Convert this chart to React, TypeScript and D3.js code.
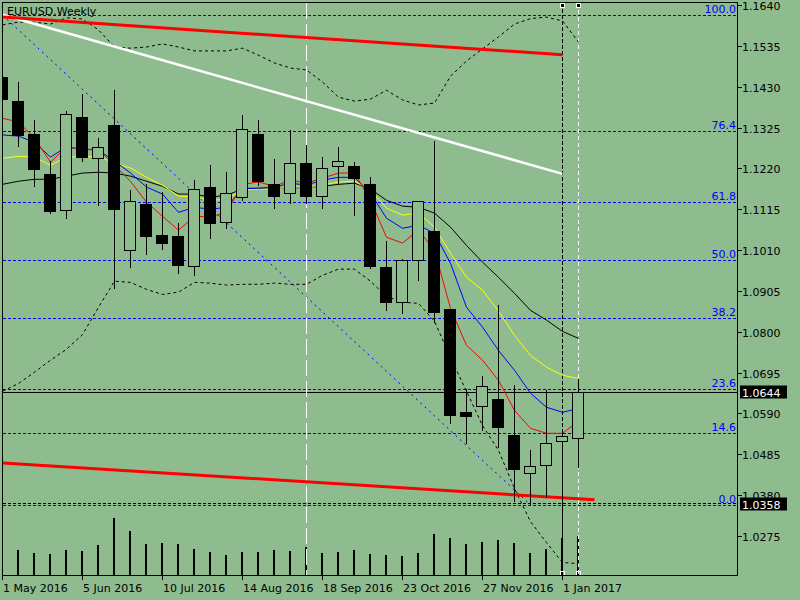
import React from "react";
import * as d3 from "d3";

// ---------- data ----------
const weeks = [
  "2016-05-01", "2016-05-08", "2016-05-15", "2016-05-22", "2016-05-29",
  "2016-06-05", "2016-06-12", "2016-06-19", "2016-06-26", "2016-07-03",
  "2016-07-10", "2016-07-17", "2016-07-24", "2016-07-31", "2016-08-07",
  "2016-08-14", "2016-08-21", "2016-08-28", "2016-09-04", "2016-09-11",
  "2016-09-18", "2016-09-25", "2016-10-02", "2016-10-09", "2016-10-16",
  "2016-10-23", "2016-10-30", "2016-11-06", "2016-11-13", "2016-11-20",
  "2016-11-27", "2016-12-04", "2016-12-11", "2016-12-18", "2016-12-25",
  "2017-01-01", "2017-01-08",
];
const open = [
  1.1456, 1.1393, 1.1308, 1.1205, 1.1112, 1.1352, 1.1246, 1.1331, 1.1009, 1.1128,
  1.1048, 1.1046, 1.0969, 1.1171, 1.1081, 1.1147, 1.1308, 1.1179, 1.1156, 1.1233,
  1.1148, 1.1225, 1.1226, 1.1179, 1.0967, 1.0877, 1.0984, 1.1059, 1.0858, 1.0593,
  1.0609, 1.0626, 1.0534, 1.0437, 1.0458, 1.0520, 1.0528,
];
const high = [
  1.1462, 1.1444, 1.1347, 1.1241, 1.1370, 1.1414, 1.1301, 1.1425, 1.1166, 1.1183,
  1.1161, 1.1081, 1.1192, 1.1230, 1.1213, 1.1361, 1.1348, 1.1246, 1.1321, 1.1282,
  1.1251, 1.1277, 1.1240, 1.1200, 1.1037, 1.0990, 1.1138, 1.1294, 1.0858, 1.0656,
  1.0688, 1.0872, 1.0667, 1.0498, 1.0652, 1.0545, 1.0682,
];
const low = [
  1.1392, 1.1277, 1.1174, 1.1105, 1.1093, 1.1239, 1.1127, 1.0912, 1.0967, 1.0999,
  1.1012, 1.0951, 1.0946, 1.1040, 1.1066, 1.1138, 1.1177, 1.1117, 1.1132, 1.1132,
  1.1117, 1.1179, 1.1100, 1.0963, 1.0855, 1.0848, 1.0932, 1.0825, 1.0565, 1.0514,
  1.0548, 1.0503, 1.0366, 1.0355, 1.0375, 1.0273, 1.0452,
];
const close = [
  1.1399, 1.1306, 1.1219, 1.1111, 1.1361, 1.1248, 1.1274, 1.1116, 1.1135, 1.1046,
  1.1028, 1.0972, 1.1168, 1.1080, 1.1156, 1.1320, 1.1188, 1.1149, 1.1233, 1.1149,
  1.1221, 1.1238, 1.1196, 1.0969, 1.0877, 1.0984, 1.1137, 1.0851, 1.0586, 1.0583,
  1.0661, 1.0555, 1.0447, 1.0454, 1.0515, 1.0531, 1.0644,
];
// tick volume, thousands
const volume = [
  240, 260, 233, 220, 260, 250, 310, 580, 450, 320, 330, 320, 270, 240, 210, 240,
  240, 260, 250, 290, 230, 240, 260, 220, 210, 200, 230, 420, 380, 320, 340, 360,
  330, 230, 270, 380, 400,
];
const maRed = [
  1.1349, 1.1339, 1.1298, 1.1236, 1.1275, 1.1269, 1.1269, 1.1228, 1.1187, 1.1133,
  1.1097, 1.1061, 1.1097, 1.1095, 1.1107, 1.1179, 1.1185, 1.1174, 1.1190, 1.1182,
  1.1195, 1.1208, 1.1208, 1.1138, 1.1043, 1.1028, 1.1061, 1.1010, 1.0860, 1.0765,
  1.0727, 1.0675, 1.0598, 1.0552, 1.0539, 1.0539, 1.0570,
];
const maBlue = [
  1.1306, 1.1303, 1.1287, 1.1249, 1.1275, 1.1269, 1.1267, 1.1239, 1.1208, 1.1172,
  1.1154, 1.1107, 1.1120, 1.1115, 1.1120, 1.1169, 1.1169, 1.1172, 1.1182, 1.1177,
  1.1190, 1.1197, 1.1197, 1.1156, 1.1092, 1.1066, 1.1074, 1.1053, 1.0976, 1.0863,
  1.0812, 1.0752, 1.0701, 1.0642, 1.0606, 1.0593, 1.0603,
];
const maYellow = [
  1.1246, 1.1251, 1.1249, 1.1228, 1.1249, 1.1249, 1.1251, 1.1233, 1.1221, 1.1197,
  1.1177, 1.1149, 1.1146, 1.1138, 1.1141, 1.1164, 1.1167, 1.1167, 1.1172, 1.1172,
  1.1177, 1.1185, 1.1187, 1.1164, 1.1118, 1.1100, 1.1105, 1.1069, 1.1002, 1.0940,
  1.0907, 1.0853, 1.0791, 1.0739, 1.0709, 1.0688, 1.0680,
];
const maBlack = [
  1.1179, 1.1187, 1.1192, 1.1192, 1.1200, 1.1208, 1.1210, 1.1208, 1.1200, 1.1187,
  1.1174, 1.1154, 1.1154, 1.1146, 1.1151, 1.1167, 1.1169, 1.1169, 1.1169, 1.1172,
  1.1174, 1.1179, 1.1182, 1.1167, 1.1138, 1.1123, 1.1120, 1.1105, 1.1069, 1.1022,
  1.0979, 1.0940, 1.0899, 1.0855, 1.0830, 1.0801, 1.0783,
];
const bandUpper = [
  1.1589, 1.1596, 1.1596, 1.1591, 1.1607, 1.1604, 1.1576, 1.1532, 1.1529, 1.1532,
  1.1540, 1.1532, 1.1522, 1.1522, 1.1522, 1.1529, 1.1511, 1.1491, 1.1478, 1.1473,
  1.1442, 1.1403, 1.1393, 1.1398, 1.1421, 1.1396, 1.1383, 1.1388, 1.1457, 1.1496,
  1.1527, 1.1558, 1.1591, 1.1605, 1.1609, 1.1599, 1.1545,
];
const bandLower = [
  1.0647, 1.0667, 1.0696, 1.0727, 1.0755, 1.0793, 1.0863, 1.0930, 1.0927, 1.0909,
  1.0896, 1.0902, 1.0927, 1.0925, 1.0920, 1.0922, 1.0922, 1.0925, 1.0922, 1.0922,
  1.0945, 1.0961, 1.0961, 1.0930, 1.0891, 1.0876, 1.0873, 1.0827, 1.0734, 1.0647,
  1.0559, 1.0495, 1.0397, 1.0312, 1.0258, 1.0207, 1.0204,
];
const priceTicks = [
  1.164, 1.1535, 1.143, 1.1325, 1.122, 1.1115, 1.101, 1.0905, 1.08, 1.0695,
  1.059, 1.0485, 1.038, 1.0275,
];
const dateTickBars = [0, 5, 10, 15, 20, 25, 30, 35];
const dateTickLabels = [
  "1 May 2016", "5 Jun 2016", "10 Jul 2016", "14 Aug 2016",
  "18 Sep 2016", "23 Oct 2016", "27 Nov 2016", "1 Jan 2017",
];
const fibLevels = [0, 14.6, 23.6, 38.2, 50, 61.8, 76.4, 100];
const fibHigh = 1.1614;
const fibLow = 1.0355;
const fibBars = [0, 33];
const whiteTrend = [[0, 1.1615], [35, 1.1206]];
const redUpper = [[0, 1.1609], [35, 1.1512]];
const redLower = [[0, 1.0463], [37, 1.0368]];
const vLineBars = [19, 35, 36];
const vLineColors = ["#FFFFFF", "#000000", "#FFFFFF"];
const vLineDashes = ["16,5", "4,2", "4,3"];
const bidPrice = 1.0644;
const lowLinePrice = 1.0358;
const title = "EURUSD,Weekly";

// ---------- chart ----------
const BG = "#8FBC8F";
const FONT = "DejaVu Sans";
const L = 3, T = 3, R = 738, B = 576;

export default function App() {
  const x = d3.scaleLinear().domain([0, 46]).range([2, 738]);
  const y = d3.scaleLinear().domain([1.0275, 1.164]).range([536, 5]);
  const yv = d3.scaleLinear().domain([0, 600]).range([576, 516]);
  const cx = (i: number) => Math.round(x(i));
  const py = (p: number) => Math.round(y(p)) + 0.5;

  const line = d3
    .line<number>()
    .x((_, i) => cx(i) + 0.5)
    .y((d) => y(d));

  const seg = (pts: number[][]) =>
    d3.line<number[]>().x((d) => x(d[0]) + 0.5).y((d) => y(d[1]))(pts) || "";

  const fibPrice = (lvl: number) => fibLow + ((fibHigh - fibLow) * lvl) / 100;

  return (
    <svg width={800} height={600} style={{ display: "block", position: "absolute", left: 0, top: 0 }} fontFamily={FONT}>
      <defs>
        <clipPath id="plot">
          <rect x={L} y={T} width={R - L} height={B - T} />
        </clipPath>
      </defs>
      <rect x={0} y={0} width={800} height={600} fill={BG} />

      <g clipPath="url(#plot)">
        {/* volumes */}
        {volume.map((v, i) => (
          <rect key={"v" + i} x={cx(i) - 1} y={yv(v)} width={2} height={B - yv(v)} fill="#000" shapeRendering="crispEdges" />
        ))}

        {/* fibonacci levels */}
        {fibLevels.map((lvl) => (
          <line key={"f" + lvl} x1={L} x2={R} y1={py(fibPrice(lvl))} y2={py(fibPrice(lvl))}
            stroke="#0000FF" strokeDasharray="3,2" shapeRendering="crispEdges" />
        ))}
        <line x1={x(fibBars[0]) + 0.5} y1={y(fibHigh)} x2={x(fibBars[1]) + 0.5} y2={y(fibLow)}
          stroke="#0000FF" strokeDasharray="2,4" />

        {/* low line and bid line */}
        <line x1={L} x2={R} y1={py(lowLinePrice) - 1} y2={py(lowLinePrice) - 1} stroke="#000" strokeDasharray="3,2" shapeRendering="crispEdges" />
        <line x1={L} x2={R} y1={py(bidPrice)} y2={py(bidPrice)} stroke="#000" shapeRendering="crispEdges" />

        {/* vertical lines */}
        {vLineBars.map((b, k) => (
          <line key={"vl" + b} x1={cx(b) + 0.5} x2={cx(b) + 0.5} y1={T} y2={B}
            stroke={vLineColors[k]} strokeDasharray={vLineDashes[k]} shapeRendering="crispEdges" />
        ))}

        {/* bollinger bands */}
        <path d={line(bandUpper) || ""} fill="none" stroke="#000" strokeDasharray="3,3" />
        <path d={line(bandLower) || ""} fill="none" stroke="#000" strokeDasharray="3,3" />

        {/* moving averages */}
        <path d={line(maBlack) || ""} fill="none" stroke="#000" />
        <path d={line(maYellow) || ""} fill="none" stroke="#FFFF00" />
        <path d={line(maBlue) || ""} fill="none" stroke="#0000FF" />
        <path d={line(maRed) || ""} fill="none" stroke="#FF0000" />

        {/* trend lines */}
        <path d={seg(whiteTrend)} stroke="#FFFFFF" strokeWidth={2.5} fill="none" />
        <path d={seg(redUpper)} stroke="#FF0000" strokeWidth={3} fill="none" />
        <path d={seg(redLower)} stroke="#FF0000" strokeWidth={3} fill="none" />

        {/* candles */}
        {open.map((o, i) => {
          const c = close[i];
          const bull = c >= o;
          const top = py(Math.max(o, c));
          const bot = py(Math.min(o, c));
          return (
            <g key={"c" + i} shapeRendering="crispEdges">
              <line x1={cx(i) + 0.5} x2={cx(i) + 0.5} y1={py(high[i])} y2={py(low[i])} stroke="#000" />
              <rect x={cx(i) - 5.5} y={top} width={11} height={Math.max(bot - top, 1)}
                fill={bull ? BG : "#000"} stroke="#000" />
            </g>
          );
        })}
      </g>

      {/* object markers */}
      {vLineBars.slice(1).map((b) => (
        <g key={"m" + b} shapeRendering="crispEdges">
          <rect x={cx(b) - 1.5} y={3.5} width={4} height={4} fill="#000" stroke="#FFF" />
          <rect x={cx(b) - 1.5} y={571.5} width={4} height={4} fill="none" stroke="#FFF" />
        </g>
      ))}

      {/* frame */}
      <rect x={L - 0.5} y={T - 0.5} width={R - L} height={B - T} fill="none" stroke="#000" shapeRendering="crispEdges" />

      {/* fib labels */}
      {fibLevels.map((lvl) => (
        <text key={"fl" + lvl} x={736} y={py(fibPrice(lvl)) - 3} textAnchor="end" fontSize={11} fill="#0000FF">
          {lvl.toFixed(1)}
        </text>
      ))}

      {/* title */}
      <text x={7} y={15} fontSize={11} fill="#000">{title}</text>

      {/* price axis */}
      {priceTicks.map((p) => (
        <g key={"pt" + p}>
          <line x1={R} x2={R + 4} y1={py(p)} y2={py(p)} stroke="#000" shapeRendering="crispEdges" />
          <text x={742} y={py(p) + 4.5} fontSize={11} fill="#000">{p.toFixed(4)}</text>
        </g>
      ))}
      {[bidPrice, lowLinePrice].map((p) => (
        <g key={"lb" + p}>
          <rect x={740} y={py(p) - 7} width={47} height={13} fill="#000" />
          <text x={742} y={py(p) + 4} fontSize={11} fill="#FFFFFF">{p.toFixed(4)}</text>
        </g>
      ))}

      {/* time axis */}
      {dateTickBars.map((b, k) => (
        <g key={"dt" + b}>
          <line x1={cx(b) + 0.5} x2={cx(b) + 0.5} y1={B} y2={B + 4} stroke="#000" shapeRendering="crispEdges" />
          <text x={cx(b) + 1} y={591.5} fontSize={11} fill="#000">{dateTickLabels[k]}</text>
        </g>
      ))}
    </svg>
  );
}
